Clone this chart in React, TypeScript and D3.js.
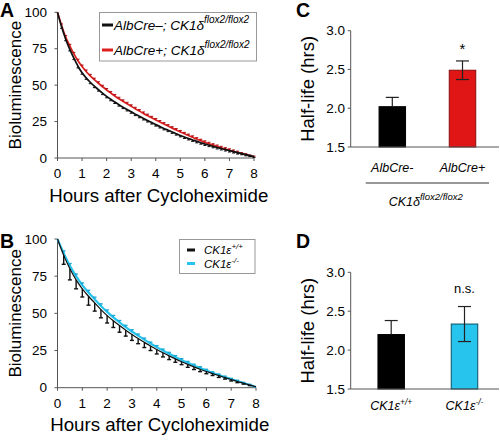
import React from "react";
import * as d3 from "d3";

// ---------- Panel A data (sampled every 10 min, 0..8 h) ----------
const hoursA = d3.range(49).map((i) => i / 6);
const albNeg = [100, 90, 81.5, 74.5, 68.5, 63, 58.5, 55, 52, 49.3, 46.9, 44.5, 42.3, 40.3, 38.4, 36.6, 34.9, 33.3, 31.7, 30.1, 28.6, 27.1, 25.7, 24.3, 22.9, 21.6, 20.3, 19.1, 17.9, 16.7, 15.5, 14.4, 13.4, 12.4, 11.4, 10.5, 9.6, 8.8, 8.0, 7.2, 6.5, 5.8, 5.1, 4.4, 3.7, 3.0, 2.3, 1.6, 0.9];
const albPos = [100, 91, 83, 77, 71.5, 66.8, 62.8, 59.4, 56.4, 53.8, 51.3, 48.9, 46.7, 44.6, 42.6, 40.7, 38.9, 37.2, 35.5, 33.8, 32.2, 30.6, 29.1, 27.6, 26.1, 24.7, 23.3, 21.9, 20.5, 19.2, 17.9, 16.6, 15.4, 14.2, 13.0, 11.9, 10.8, 9.8, 8.8, 7.9, 7.0, 6.1, 5.3, 4.5, 3.7, 2.9, 2.2, 1.5, 0.8];
const albNegErr = [0, 1, 1, 1, 1, 1.2, 1, 1, 1, 1, 1, 1, 1, 1, 1, 1, 1, 1, 1, 1, 1, 1, 1, 1, 1, 1, 1, 1, 1, 1, 1, 1, 1, 1, 1, 1, 1, 1, 1, 1, 1, 1, 1, 1, 1, 0.8, 0.8, 0.6, 0.5];
const albPosErr = [0, 1, 1, 1, 1, 1, 1, 1, 1, 1, 1, 1, 1, 1, 1, 1, 1, 1, 1, 1, 1, 1, 1, 1, 1, 1, 1, 1, 1, 1, 1, 1, 1, 1, 1, 1, 1, 1, 1, 1, 1, 1, 1, 1, 1, 0.8, 0.8, 0.6, 0.5];

// ---------- Panel B data (sampled every 15 min, 0..8 h) ----------
const hoursB = d3.range(33).map((i) => i / 4);
const ckWT = [100, 89, 80, 72.5, 66.5, 61.5, 57, 52.5, 48.5, 45, 41.8, 38.7, 35.8, 33.1, 30.5, 28, 25.7, 23.5, 21.4, 19.4, 17.5, 15.7, 14, 12.4, 10.9, 9.5, 8.1, 6.8, 5.5, 4.2, 3.0, 1.8, 0.6];
const ckKO = [100, 90.5, 82, 75, 69, 64, 59.5, 55, 51, 47.3, 44, 40.8, 37.8, 35, 32.3, 29.7, 27.3, 25, 22.8, 20.7, 18.7, 16.8, 15, 13.3, 11.6, 10, 8.5, 7.1, 5.7, 4.4, 3.1, 1.8, 0.5];
const ckWTErr = [0, 6, 7.5, 6, 5.5, 6, 5.5, 5.5, 5, 4.5, 4.5, 4, 4, 3.5, 3.5, 3, 3, 2.8, 2.5, 2.3, 2, 2, 1.8, 1.6, 1.5, 1.3, 1.2, 1, 1, 0.8, 0.6, 0.4, 0];
const ckKOErr = [0, 1.5, 1.5, 1.5, 1.5, 1.5, 1.4, 1.4, 1.3, 1.3, 1.2, 1.2, 1.2, 1.1, 1.1, 1, 1, 1, 1, 0.9, 0.9, 0.9, 0.8, 0.8, 0.8, 0.7, 0.7, 0.7, 0.6, 0.6, 0.5, 0.5, 0];

// ---------- Panel C / D data ----------
const catsC = ["AlbCre-", "AlbCre+"];
const halfC = [2.02, 2.49];
const errC = [0.12, 0.12];
const catsD = ["wt", "ko"];
const halfD = [2.2, 2.335];
const errD = [0.18, 0.225];

const hourTicks = [0, 1, 2, 3, 4, 5, 6, 7, 8];
const lumTicks = [0, 25, 50, 75, 100];
const halfTicks = [1.5, 2.0, 2.5, 3.0];

const RED = "#dc1f1f";
const CYAN = "#27c4ee";
const AXIS = "#555";
const FONT = "Liberation Sans, Arial, sans-serif";

function CurvePanel({ xs, yRange, xRange, series, title }: any) {
  const x = d3.scaleLinear().domain([0, 8]).range(xRange);
  const y = d3.scaleLinear().domain([0, 100]).range(yRange);
  const y0 = yRange[0];
  const x0 = xRange[0];
  return (
    <g>
      <line x1={x0} x2={x0} y1={y(100)} y2={y0} stroke={AXIS} />
      <line x1={x0} x2={x(8)} y1={y0} y2={y0} stroke={AXIS} />
      {lumTicks.map((t) => (
        <g key={"y" + t}>
          <line x1={x0 - 3} x2={x0} y1={y(t)} y2={y(t)} stroke={AXIS} />
          <text x={47} y={y(t)} dy="0.35em" textAnchor="end" fontSize={13.5}>{t}</text>
        </g>
      ))}
      {hourTicks.map((t) => (
        <g key={"x" + t}>
          <line x1={x(t)} x2={x(t)} y1={y0} y2={y0 + 3} stroke={AXIS} />
          <text x={x(t)} y={y0 + 20} textAnchor="middle" fontSize={13.5}>{t}</text>
        </g>
      ))}
      <text x={(xRange[0] + xRange[1]) / 2 + 3} y={y0 + 43.5} textAnchor="middle" fontSize={18.7}>{title}</text>
      <text transform={`translate(20.5,${(yRange[0] + yRange[1]) / 2}) rotate(-90)`} textAnchor="middle" fontSize={17}>Bioluminescence</text>
      {series.map((s: any, si: number) => {
        const line = d3.line<number>().x((_, i) => x(xs[i])).y((v) => y(v)).curve(d3.curveMonotoneX);
        return (
          <g key={si}>
            <path d={line(s.values) || ""} fill="none" stroke={s.color} strokeWidth={s.width} />
            {s.values.map((v: number, i: number) => {
              const e = s.err[i];
              if (!e) return null;
              const yy = y(v + s.dir * e);
              return (
                <g key={i} stroke={s.errColor} strokeWidth={s.errWidth}>
                  <line x1={x(xs[i])} x2={x(xs[i])} y1={y(v)} y2={yy} />
                  <line x1={x(xs[i]) - s.cap} x2={x(xs[i]) + s.cap} y1={yy} y2={yy} />
                </g>
              );
            })}
          </g>
        );
      })}
    </g>
  );
}

function BarPanel({ cats, vals, errs, yRange, xRange, colors, strokes, errBoth, xEnd }: any) {
  const y = d3.scaleLinear().domain([1.5, 3]).range(yRange);
  const x = d3.scalePoint<string>().domain(cats).range(xRange);
  const x0 = 350.7;
  const bw = 26.5;
  return (
    <g>
      {cats.map((c: string, i: number) => (
        <g key={c}>
          <rect x={x(c)! - bw / 2} y={y(vals[i])} width={bw} height={y(1.5) - y(vals[i])} fill={colors[i]} stroke={strokes[i]} strokeWidth={1} />
          <g stroke="#222" strokeWidth={1.2}>
            <line x1={x(c)} x2={x(c)} y1={y(errBoth[i] ? vals[i] - errs[i] : vals[i])} y2={y(vals[i] + errs[i])} />
            <line x1={x(c)! - 6.5} x2={x(c)! + 6.5} y1={y(vals[i] + errs[i])} y2={y(vals[i] + errs[i])} />
            {errBoth[i] && (
              <line x1={x(c)! - 6.5} x2={x(c)! + 6.5} y1={y(vals[i] - errs[i])} y2={y(vals[i] - errs[i])} />
            )}
          </g>
        </g>
      ))}
      <line x1={x0} x2={x0} y1={y(3)} y2={y(1.5)} stroke={AXIS} />
      <line x1={x0} x2={xEnd} y1={y(1.5)} y2={y(1.5)} stroke={AXIS} />
      {halfTicks.map((t) => (
        <g key={t}>
          <line x1={x0 - 3} x2={x0} y1={y(t)} y2={y(t)} stroke={AXIS} />
          <text x={345} y={y(t)} dy="0.35em" textAnchor="end" fontSize={13.5}>{t.toFixed(1)}</text>
        </g>
      ))}
      <text transform={`translate(314,${(yRange[0] + yRange[1]) / 2}) rotate(-90)`} textAnchor="middle" fontSize={18.5}>Half-life (hrs)</text>
    </g>
  );
}

export default function App() {
  const xC = d3.scalePoint<string>().domain(catsC).range([392.3, 462.5]);
  const xD = d3.scalePoint<string>().domain(catsD).range([391.2, 464.5]);
  return (
    <svg width={500} height={445} style={{ position: "absolute", left: 0, top: 0, fontFamily: FONT }} xmlns="http://www.w3.org/2000/svg">
      <rect width={500} height={445} fill="#fff" />
      {/* Panel A */}
      <CurvePanel
        xs={hoursA}
        xRange={[57.5, 254]}
        yRange={[158, 12.3]}
        title="Hours after Cycloheximide"
        series={[
          { values: albPos, err: albPosErr, color: RED, errColor: "#b01010", width: 1.7, dir: 1, errWidth: 1, cap: 1.5 },
          { values: albNeg, err: albNegErr, color: "#111", errColor: "#111", width: 1.7, dir: -1, errWidth: 1, cap: 1.5 },
        ]}
      />
      <g>
        <rect x={99.5} y={12.5} width={157} height={48.5} fill="#fff" stroke="#999" />
        <line x1={102} x2={113} y1={25} y2={25} stroke="#111" strokeWidth={3} />
        <line x1={102} x2={113} y1={50} y2={50} stroke={RED} strokeWidth={3} />
        <text x={114} y={30} fontSize={13.5} fontStyle="italic">
          AlbCre–; CK1δ<tspan fontSize={10} dy={-7}>flox2/flox2</tspan>
        </text>
        <text x={114} y={55} fontSize={13.5} fontStyle="italic">
          AlbCre+; CK1δ<tspan fontSize={10} dy={-7}>flox2/flox2</tspan>
        </text>
      </g>
      <text x={0} y={17} fontSize={19.5} fontWeight="bold">A</text>

      {/* Panel B */}
      <CurvePanel
        xs={hoursB}
        xRange={[57.5, 256]}
        yRange={[387.7, 239]}
        title="Hours after Cycloheximide"
        series={[
          { values: ckKO, err: ckKOErr, color: CYAN, errColor: "#1aa9d6", width: 2.2, dir: 1, errWidth: 1.3, cap: 1.8 },
          { values: ckWT, err: ckWTErr, color: "#111", errColor: "#111", width: 1.2, dir: -1, errWidth: 1.4, cap: 2 },
        ]}
      />
      <g>
        <rect x={179.5} y={239.5} width={75.5} height={34} fill="#fff" stroke="#999" />
        <line x1={187} x2={195} y1={250} y2={250} stroke="#111" strokeWidth={3} />
        <line x1={187} x2={195} y1={263.5} y2={263.5} stroke={CYAN} strokeWidth={3} />
        <text x={204} y={254} fontSize={11.5} fontStyle="italic">
          CK1ε<tspan fontSize={8} dy={-5}>+/+</tspan>
        </text>
        <text x={204} y={267.5} fontSize={11.5} fontStyle="italic">
          CK1ε<tspan fontSize={8} dy={-5}>-/-</tspan>
        </text>
      </g>
      <text x={0} y={248} fontSize={19.5} fontWeight="bold">B</text>

      {/* Panel C */}
      <BarPanel
        cats={catsC}
        vals={halfC}
        errs={errC}
        yRange={[147, 30.7]}
        xRange={[392.3, 462.5]}
        colors={["#000", "#e01515"]}
        strokes={["#000", "#8a0c0c"]}
        errBoth={[false, true]}
        xEnd={499}
      />
      <text x={xC("AlbCre+")} y={54} textAnchor="middle" fontSize={15}>*</text>
      <text x={xC("AlbCre-")} y={172} textAnchor="middle" fontSize={12.5} fontStyle="italic">AlbCre-</text>
      <text x={xC("AlbCre+")} y={172} textAnchor="middle" fontSize={12.5} fontStyle="italic">AlbCre+</text>
      <line x1={365.7} x2={489} y1={183} y2={183} stroke="#333" />
      <text x={425.7} y={206} textAnchor="middle" fontSize={12.5} fontStyle="italic">
        CK1δ<tspan fontSize={9.5} dy={-6}>flox2/flox2</tspan>
      </text>
      <text x={296} y={17} fontSize={19.5} fontWeight="bold">C</text>

      {/* Panel D */}
      <BarPanel
        cats={catsD}
        vals={halfD}
        errs={errD}
        yRange={[389, 272.3]}
        xRange={[391.2, 464.5]}
        colors={["#000", CYAN]}
        strokes={["#000", "#0b4f63"]}
        errBoth={[false, true]}
        xEnd={499}
      />
      <text x={xD("ko")} y={293} textAnchor="middle" fontSize={13}>n.s.</text>
      <text x={xD("wt")} y={410} textAnchor="middle" fontSize={12.5} fontStyle="italic">
        CK1ε<tspan fontSize={8.5} dy={-5}>+/+</tspan>
      </text>
      <text x={xD("ko")} y={410} textAnchor="middle" fontSize={12.5} fontStyle="italic">
        CK1ε<tspan fontSize={8.5} dy={-5}>-/-</tspan>
      </text>
      <text x={296} y={248} fontSize={19.5} fontWeight="bold">D</text>
    </svg>
  );
}
